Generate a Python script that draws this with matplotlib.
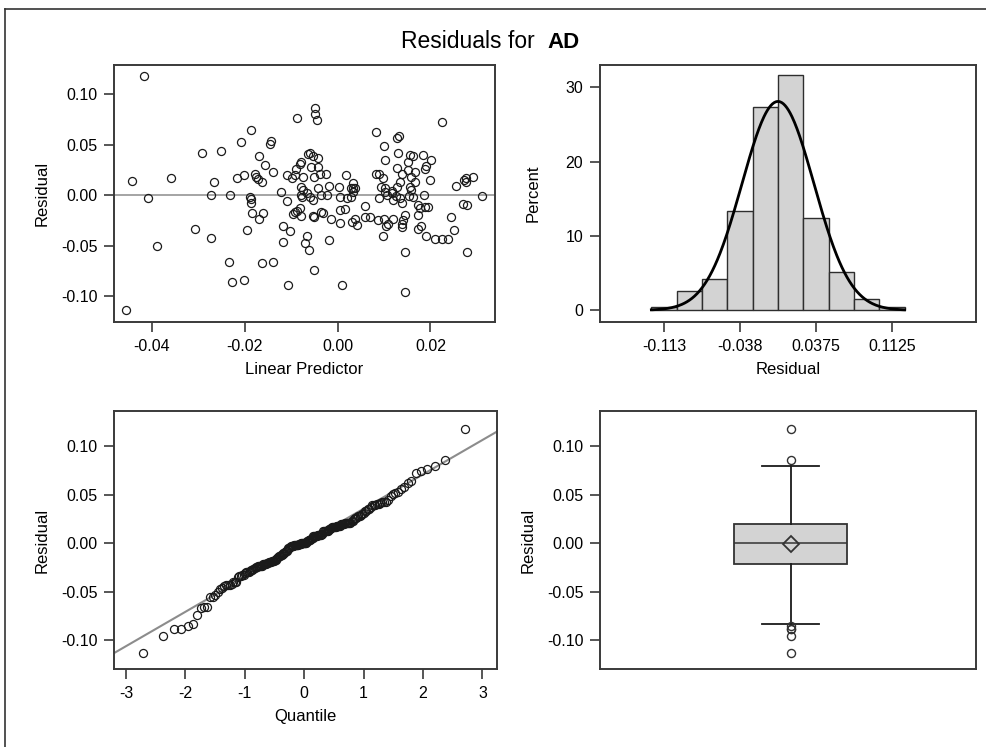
import numpy as np
import matplotlib
matplotlib.use("Agg")
import matplotlib.pyplot as plt
from matplotlib.lines import Line2D
from statistics import NormalDist

plt.rcParams['font.family'] = ['Liberation Sans', 'DejaVu Sans']
plt.rcParams['axes.unicode_minus'] = False

# ---------------- data ----------------
linear_predictor = [
    -0.0417, -0.0457, -0.0444, -0.0408, -0.0390, -0.0359, -0.0307, -0.0292, -0.0273, -0.0273,
    -0.0266, -0.0252, -0.0235, -0.0233, -0.0228, -0.0218, -0.0209, -0.0201, -0.0201, -0.0196,
    -0.0187, -0.0189, -0.0187, -0.0186, -0.0185, -0.0179, -0.0175, -0.0171, -0.0163, -0.0169,
    -0.0162, -0.0169, -0.0164, -0.0156, -0.0146, -0.0143, -0.0139, -0.0139, -0.0123, -0.0118,
    -0.0110, -0.0109, -0.0106, -0.0103, -0.0118, -0.0099, -0.0092, -0.0087, -0.0089, -0.0082,
    -0.0078, -0.0097, -0.0092, -0.0082, -0.0078, -0.0087, -0.0080, -0.0075, -0.0076, -0.0075,
    -0.0067, -0.0071, -0.0061, -0.0063, -0.0049, -0.0049, -0.0045, -0.0060, -0.0053, -0.0042,
    -0.0057, -0.0042, -0.0051, -0.0038, -0.0025, -0.0067, -0.0060, -0.0054, -0.0042, -0.0035,
    -0.0024, -0.0018, -0.0053, -0.0051, -0.0035, -0.0031, -0.0015, -0.0018, -0.0051, 0.0010,
    0.0003, 0.0006, 0.0019, 0.0028, 0.0033, 0.0032, 0.0028, 0.0037, 0.0005, 0.0016,
    0.0006, 0.0030, 0.0042, 0.0037, 0.0059, 0.0059, 0.0070, 0.0083, 0.0099, 0.0103,
    0.0128, 0.0132, 0.0130, 0.0083, 0.0089, 0.0098, 0.0094, 0.0101, 0.0090, 0.0106,
    0.0116, 0.0125, 0.0134, 0.0120, 0.0128, 0.0128, 0.0138, 0.0134, 0.0099, 0.0108,
    0.0120, 0.0138, 0.0141, 0.0145, 0.0087, 0.0098, 0.0138, 0.0145, 0.0145, 0.0152,
    0.0155, 0.0163, 0.0152, 0.0166, 0.0159, 0.0155, 0.0166, 0.0159, 0.0163, 0.0174,
    0.0177, 0.0188, 0.0195, 0.0174, 0.0174, 0.0179, 0.0183, 0.0188, 0.0191, 0.0185,
    0.0198, 0.0202, 0.0190, 0.0209, 0.0224, 0.0238, 0.0224, 0.0245, 0.0250, 0.0254,
    0.0272, 0.0277, 0.0276, 0.0292, 0.0269, 0.0279, 0.0279, 0.0312, 0.0105, -0.0078,
    0.0020, 0.0033, 0.0139, 0.0118, 0.0103, 0.0154,
]
residuals = [
    0.118, -0.113, 0.014, -0.003, -0.050, 0.017, -0.033, 0.042, 0.000, -0.042,
    0.013, 0.044, -0.066, 0.000, -0.086, 0.017, 0.052, -0.084, 0.020, -0.034,
    0.064, -0.002, -0.008, -0.004, -0.018, 0.021, 0.018, 0.016, 0.013, 0.039,
    -0.018, -0.024, -0.067, 0.030, 0.051, 0.053, 0.023, -0.066, 0.003, -0.030,
    0.020, -0.006, -0.089, -0.035, -0.046, 0.017, 0.020, 0.076, 0.026, 0.031,
    0.033, -0.019, -0.017, -0.013, -0.021, -0.016, 0.008, 0.005, -0.002, 0.018,
    -0.040, -0.047, -0.054, 0.041, 0.086, 0.080, 0.074, 0.042, 0.039, 0.037,
    0.028, 0.028, 0.018, 0.021, 0.021, 0.002, -0.002, -0.005, 0.007, 0.000,
    0.000, 0.009, -0.021, -0.022, -0.017, -0.018, -0.024, -0.044, -0.074, -0.089,
    0.008, -0.002, 0.020, 0.007, 0.012, 0.007, -0.002, 0.007, -0.015, -0.014,
    -0.027, -0.026, -0.029, -0.024, -0.011, -0.022, -0.022, 0.062, 0.049, 0.035,
    0.056, 0.058, 0.042, 0.021, 0.021, 0.017, 0.008, 0.007, -0.003, 0.000,
    0.002, -0.001, -0.003, -0.005, 0.008, 0.027, 0.021, 0.013, -0.024, -0.028,
    -0.024, -0.028, -0.025, -0.020, -0.025, -0.040, -0.031, -0.056, -0.096, 0.033,
    0.040, 0.039, 0.025, 0.023, 0.018, 0.008, 0.013, 0.005, -0.002, -0.010,
    -0.013, -0.012, -0.012, -0.020, -0.033, -0.030, 0.040, 0.026, 0.029, 0.000,
    0.015, 0.035, -0.040, -0.043, -0.043, -0.043, 0.072, -0.022, -0.034, 0.009,
    0.015, 0.017, 0.013, 0.018, -0.009, -0.010, -0.056, -0.001, -0.030, 0.000,
    -0.003, 0.003, -0.008, 0.004, 0.003, -0.001,
]

hist_centers = [-0.1125, -0.0875, -0.0625, -0.0375, -0.0125, 0.0125, 0.0375, 0.0625, 0.0875, 0.1125]
hist_percent = [0.5, 2.6, 4.2, 13.3, 27.4, 31.6, 12.4, 5.2, 1.5, 0.5]
hist_bin_width = 0.025
hist_ticks = [-0.1125, -0.0375, 0.0375, 0.1125]
hist_tick_labels = ['-0.113', '-0.038', '0.0375', '0.1125']
normal_mu = 0.0
normal_sigma = 0.0355

scatter_xticks = [-0.04, -0.02, 0.00, 0.02]
res_yticks = [-0.10, -0.05, 0.00, 0.05, 0.10]
qq_xticks = [-3, -2, -1, 0, 1, 2, 3]
hist_yticks = [0, 10, 20, 30]

# ---------------- style ----------------
W, H = 987, 747
fig = plt.figure(figsize=(W / 100, H / 100), dpi=100)

frame_col = '#3a3a3a'
tick_fs = 11.5
label_fs = 12


def ax_at(left, top, right, bottom):
    return fig.add_axes([left / W, 1 - bottom / H, (right - left) / W, (bottom - top) / H])


def style(ax):
    for s in ax.spines.values():
        s.set_color(frame_col)
        s.set_linewidth(1.4)
    ax.tick_params(direction='out', length=7, width=1.2, color=frame_col,
                   labelsize=tick_fs, pad=5)


circle_kw = dict(marker='o', linestyle='none', markersize=5.8,
                 markerfacecolor='none', markeredgecolor='#1a1a1a', markeredgewidth=0.9)

# ---------- scatter: residual vs linear predictor ----------
ax1 = ax_at(114, 65, 495, 322)
style(ax1)
ax1.axhline(0, color='#8c8c8c', lw=1.1, zorder=1)
ax1.plot(linear_predictor, residuals, zorder=2, **circle_kw)
ax1.set_xlim(-0.0482, 0.0339)
ax1.set_ylim(-0.1252, 0.1285)
ax1.set_xticks(scatter_xticks)
ax1.set_xticklabels([f'{v:.2f}' for v in scatter_xticks])
ax1.set_yticks(res_yticks)
ax1.set_yticklabels([f'{v:.2f}' for v in res_yticks])
ax1.set_xlabel('Linear Predictor', fontsize=label_fs, labelpad=6)
ax1.set_ylabel('Residual', fontsize=label_fs, labelpad=8)

# ---------- histogram ----------
ax2 = ax_at(600, 65, 976, 322)
style(ax2)
ax2.bar(hist_centers, hist_percent, width=hist_bin_width, color='#d3d3d3',
        edgecolor='#2e2e2e', linewidth=1.0, zorder=2)
xs = np.linspace(hist_centers[0] - hist_bin_width / 2, hist_centers[-1] + hist_bin_width / 2, 300)
nd = NormalDist(normal_mu, normal_sigma)
ys = [100 * hist_bin_width * nd.pdf(v) for v in xs]
ax2.plot(xs, ys, color='black', lw=2.0, zorder=3)
ax2.set_xlim(-0.1757, 0.1955)
ax2.set_ylim(-1.58, 33.0)
ax2.set_xticks(hist_ticks)
ax2.set_xticklabels(hist_tick_labels)
ax2.set_yticks(hist_yticks)
ax2.set_xlabel('Residual', fontsize=label_fs, labelpad=6)
ax2.set_ylabel('Percent', fontsize=label_fs, labelpad=18)

# ---------- QQ plot ----------
ax3 = ax_at(114, 411, 497, 669)
style(ax3)
n = len(residuals)
std_norm = NormalDist()
quant = [std_norm.inv_cdf((i + 1 - 0.375) / (n + 0.25)) for i in range(n)]
sorted_res = sorted(residuals)
qx = np.array([-3.2, 3.25])
ax3.plot(qx, normal_mu + normal_sigma * qx, color='#8c8c8c', lw=1.5, zorder=1)
ax3.plot(quant, sorted_res, zorder=2, **circle_kw)
ax3.set_xlim(-3.2, 3.244)
ax3.set_ylim(-0.130, 0.1364)
ax3.set_xticks(qq_xticks)
ax3.set_xticklabels([str(v) for v in qq_xticks])
ax3.set_yticks(res_yticks)
ax3.set_yticklabels([f'{v:.2f}' for v in res_yticks])
ax3.set_xlabel('Quantile', fontsize=label_fs, labelpad=6)
ax3.set_ylabel('Residual', fontsize=label_fs, labelpad=8)

# ---------- box plot ----------
ax4 = ax_at(600, 411, 976, 669)
style(ax4)
ax4.boxplot([residuals], positions=[0.507], widths=0.30, whis=1.5, patch_artist=True,
            showmeans=True, capwidths=[0.15],
            boxprops=dict(facecolor='#d3d3d3', edgecolor='#333333', linewidth=1.3),
            medianprops=dict(color='#333333', linewidth=1.1),
            whiskerprops=dict(color='#1a1a1a', linewidth=1.3),
            capprops=dict(color='#1a1a1a', linewidth=1.3),
            meanprops=dict(marker='D', markerfacecolor='none', markeredgecolor='#333333',
                           markeredgewidth=1.3, markersize=8.5),
            flierprops=dict(marker='o', markerfacecolor='none', markeredgecolor='#333333',
                            markeredgewidth=1.0, markersize=5.8))
ax4.set_xlim(0, 1)
ax4.set_ylim(-0.130, 0.1364)
ax4.set_xticks([])
ax4.set_yticks(res_yticks)
ax4.set_yticklabels([f'{v:.2f}' for v in res_yticks])
ax4.set_ylabel('Residual', fontsize=label_fs, labelpad=8)

# ---------- title ----------
fig.text(541 / W, 1 - 42 / H, 'Residuals for ', ha='right', va='center', fontsize=16.5)
fig.text(547 / W, 1 - 42 / H, 'AD', ha='left', va='center', fontsize=16, fontweight='bold')

# ---------- outer frame ----------
fig.add_artist(Line2D([5 / W, 5 / W], [0, 1 - 9 / H], transform=fig.transFigure,
                      color='#333333', lw=1.2))
fig.add_artist(Line2D([5 / W, 1], [1 - 9 / H, 1 - 9 / H], transform=fig.transFigure,
                      color='#333333', lw=1.2))

fig.savefig('out.png', dpi=100)
